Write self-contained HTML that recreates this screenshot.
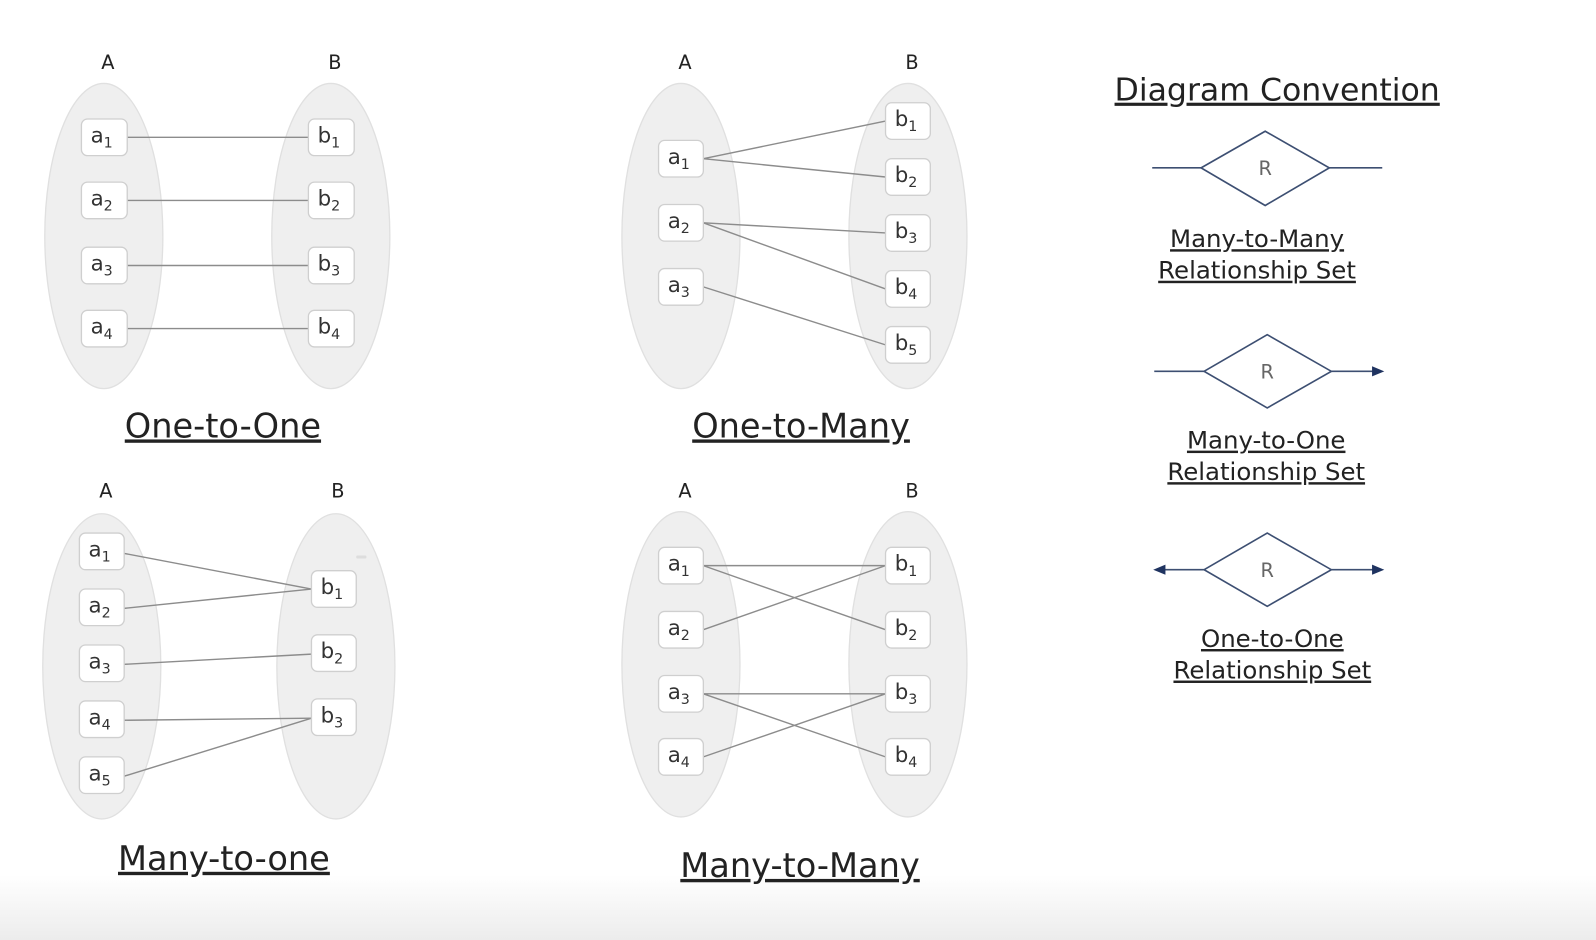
<!DOCTYPE html>
<html><head><meta charset="utf-8"><style>
html,body{margin:0;padding:0;width:1596px;height:940px;overflow:hidden;background:#fff}
svg{display:block}
text{font-family:"DejaVu Sans","Liberation Sans",sans-serif}
.n{fill:#fff;stroke:#cfcfcf;stroke-width:1.3}
.e{fill:#efefef;stroke:#e0e0e0;stroke-width:1.3}
.l{stroke:#8c8c8c;stroke-width:1.4;fill:none}
.t{font-size:21px;fill:#333}
.s{font-size:14px}
.h{font-size:19px;fill:#222}
.ti{font-size:33px;fill:#222;text-decoration:underline}
.cv{font-size:24px;fill:#222;text-decoration:underline}
.dm{fill:#fff;stroke:#3d4f72;stroke-width:1.6}
.dl{stroke:#3d4f72;stroke-width:1.6}
.r{font-size:19px;fill:#666}
</style></head><body>
<svg width="1596" height="940" viewBox="0 0 1568 924" preserveAspectRatio="none">
<defs>
<linearGradient id="g" x1="0" y1="0" x2="0" y2="1"><stop offset="0" stop-color="#fff"/><stop offset="1" stop-color="#ececec"/></linearGradient>
</defs>
<rect x="0" y="860" width="1568" height="64" fill="url(#g)"/>

<!-- One-to-One -->
<text class="h" x="106" y="68" text-anchor="middle">A</text>
<text class="h" x="329" y="68" text-anchor="middle">B</text>
<ellipse class="e" cx="102" cy="232" rx="58" ry="150"/>
<ellipse class="e" cx="325" cy="232" rx="58" ry="150"/>
<line class="l" x1="125" y1="135" x2="303" y2="135"/>
<line class="l" x1="125" y1="197" x2="303" y2="197"/>
<line class="l" x1="125" y1="261" x2="303" y2="261"/>
<line class="l" x1="125" y1="323" x2="303" y2="323"/>
<g>
<rect class="n" x="80" y="117" width="45" height="36" rx="6"/><text class="t" x="89" y="140">a<tspan class="s" dy="5">1</tspan></text>
<rect class="n" x="80" y="179" width="45" height="36" rx="6"/><text class="t" x="89" y="202">a<tspan class="s" dy="5">2</tspan></text>
<rect class="n" x="80" y="243" width="45" height="36" rx="6"/><text class="t" x="89" y="266">a<tspan class="s" dy="5">3</tspan></text>
<rect class="n" x="80" y="305" width="45" height="36" rx="6"/><text class="t" x="89" y="328">a<tspan class="s" dy="5">4</tspan></text>
<rect class="n" x="303" y="117" width="45" height="36" rx="6"/><text class="t" x="312" y="140">b<tspan class="s" dy="5">1</tspan></text>
<rect class="n" x="303" y="179" width="45" height="36" rx="6"/><text class="t" x="312" y="202">b<tspan class="s" dy="5">2</tspan></text>
<rect class="n" x="303" y="243" width="45" height="36" rx="6"/><text class="t" x="312" y="266">b<tspan class="s" dy="5">3</tspan></text>
<rect class="n" x="303" y="305" width="45" height="36" rx="6"/><text class="t" x="312" y="328">b<tspan class="s" dy="5">4</tspan></text>
</g>
<text class="ti" x="219" y="430" text-anchor="middle">One-to-One</text>

<!-- One-to-Many -->
<text class="h" x="673" y="68" text-anchor="middle">A</text>
<text class="h" x="896" y="68" text-anchor="middle">B</text>
<ellipse class="e" cx="669" cy="232" rx="58" ry="150"/>
<ellipse class="e" cx="892" cy="232" rx="58" ry="150"/>
<line class="l" x1="691" y1="156" x2="870" y2="119"/>
<line class="l" x1="691" y1="156" x2="870" y2="174"/>
<line class="l" x1="691" y1="219" x2="870" y2="229"/>
<line class="l" x1="691" y1="219" x2="870" y2="284"/>
<line class="l" x1="691" y1="282" x2="870" y2="339"/>
<rect class="n" x="647" y="138" width="44" height="36" rx="6"/><text class="t" x="656" y="161">a<tspan class="s" dy="5">1</tspan></text>
<rect class="n" x="647" y="201" width="44" height="36" rx="6"/><text class="t" x="656" y="224">a<tspan class="s" dy="5">2</tspan></text>
<rect class="n" x="647" y="264" width="44" height="36" rx="6"/><text class="t" x="656" y="287">a<tspan class="s" dy="5">3</tspan></text>
<rect class="n" x="870" y="101" width="44" height="36" rx="6"/><text class="t" x="879" y="124">b<tspan class="s" dy="5">1</tspan></text>
<rect class="n" x="870" y="156" width="44" height="36" rx="6"/><text class="t" x="879" y="179">b<tspan class="s" dy="5">2</tspan></text>
<rect class="n" x="870" y="211" width="44" height="36" rx="6"/><text class="t" x="879" y="234">b<tspan class="s" dy="5">3</tspan></text>
<rect class="n" x="870" y="266" width="44" height="36" rx="6"/><text class="t" x="879" y="289">b<tspan class="s" dy="5">4</tspan></text>
<rect class="n" x="870" y="321" width="44" height="36" rx="6"/><text class="t" x="879" y="344">b<tspan class="s" dy="5">5</tspan></text>
<text class="ti" x="787" y="430" text-anchor="middle">One-to-Many</text>

<!-- Many-to-one -->
<text class="h" x="104" y="489" text-anchor="middle">A</text>
<text class="h" x="332" y="489" text-anchor="middle">B</text>
<ellipse class="e" cx="100" cy="655" rx="58" ry="150"/>
<ellipse class="e" cx="330" cy="655" rx="58" ry="150"/>
<line class="l" x1="122" y1="544" x2="306" y2="579"/>
<line class="l" x1="122" y1="598" x2="306" y2="579"/>
<line class="l" x1="122" y1="653" x2="306" y2="643"/>
<line class="l" x1="122" y1="708" x2="306" y2="706"/>
<line class="l" x1="122" y1="763" x2="306" y2="706"/>
<rect x="350" y="546" width="10" height="3" rx="1" fill="#ddd"/>
<rect class="n" x="78" y="524" width="44" height="36" rx="6"/><text class="t" x="87" y="547">a<tspan class="s" dy="5">1</tspan></text>
<rect class="n" x="78" y="579" width="44" height="36" rx="6"/><text class="t" x="87" y="602">a<tspan class="s" dy="5">2</tspan></text>
<rect class="n" x="78" y="634" width="44" height="36" rx="6"/><text class="t" x="87" y="657">a<tspan class="s" dy="5">3</tspan></text>
<rect class="n" x="78" y="689" width="44" height="36" rx="6"/><text class="t" x="87" y="712">a<tspan class="s" dy="5">4</tspan></text>
<rect class="n" x="78" y="744" width="44" height="36" rx="6"/><text class="t" x="87" y="767">a<tspan class="s" dy="5">5</tspan></text>
<rect class="n" x="306" y="561" width="44" height="36" rx="6"/><text class="t" x="315" y="584">b<tspan class="s" dy="5">1</tspan></text>
<rect class="n" x="306" y="624" width="44" height="36" rx="6"/><text class="t" x="315" y="647">b<tspan class="s" dy="5">2</tspan></text>
<rect class="n" x="306" y="687" width="44" height="36" rx="6"/><text class="t" x="315" y="710">b<tspan class="s" dy="5">3</tspan></text>
<text class="ti" x="220" y="855" text-anchor="middle">Many-to-one</text>

<!-- Many-to-Many -->
<text class="h" x="673" y="489" text-anchor="middle">A</text>
<text class="h" x="896" y="489" text-anchor="middle">B</text>
<ellipse class="e" cx="669" cy="653" rx="58" ry="150"/>
<ellipse class="e" cx="892" cy="653" rx="58" ry="150"/>
<line class="l" x1="691" y1="556" x2="870" y2="556"/>
<line class="l" x1="691" y1="556" x2="870" y2="619"/>
<line class="l" x1="691" y1="619" x2="870" y2="556"/>
<line class="l" x1="691" y1="682" x2="870" y2="682"/>
<line class="l" x1="691" y1="682" x2="870" y2="744"/>
<line class="l" x1="691" y1="744" x2="870" y2="682"/>
<rect class="n" x="647" y="538" width="44" height="36" rx="6"/><text class="t" x="656" y="561">a<tspan class="s" dy="5">1</tspan></text>
<rect class="n" x="647" y="601" width="44" height="36" rx="6"/><text class="t" x="656" y="624">a<tspan class="s" dy="5">2</tspan></text>
<rect class="n" x="647" y="664" width="44" height="36" rx="6"/><text class="t" x="656" y="687">a<tspan class="s" dy="5">3</tspan></text>
<rect class="n" x="647" y="726" width="44" height="36" rx="6"/><text class="t" x="656" y="749">a<tspan class="s" dy="5">4</tspan></text>
<rect class="n" x="870" y="538" width="44" height="36" rx="6"/><text class="t" x="879" y="561">b<tspan class="s" dy="5">1</tspan></text>
<rect class="n" x="870" y="601" width="44" height="36" rx="6"/><text class="t" x="879" y="624">b<tspan class="s" dy="5">2</tspan></text>
<rect class="n" x="870" y="664" width="44" height="36" rx="6"/><text class="t" x="879" y="687">b<tspan class="s" dy="5">3</tspan></text>
<rect class="n" x="870" y="726" width="44" height="36" rx="6"/><text class="t" x="879" y="749">b<tspan class="s" dy="5">4</tspan></text>
<text class="ti" x="786" y="862" text-anchor="middle">Many-to-Many</text>

<!-- Convention -->
<text x="1095" y="99" style="font-size:31px;fill:#222;text-decoration:underline">Diagram Convention</text>

<line class="dl" x1="1132" y1="165" x2="1180" y2="165"/>
<line class="dl" x1="1306" y1="165" x2="1358" y2="165"/>
<polygon class="dm" points="1180,165 1243,129 1306,165 1243,202"/>
<text class="r" x="1243" y="172" text-anchor="middle">R</text>
<text class="cv" x="1235" y="243" text-anchor="middle">Many-to-Many</text>
<text class="cv" x="1235" y="274" text-anchor="middle">Relationship Set</text>

<line class="dl" x1="1134" y1="365" x2="1183" y2="365"/>
<line class="dl" x1="1308" y1="365" x2="1350" y2="365"/>
<polygon points="1360,365 1348,360 1348,370" fill="#1f3360"/>
<polygon class="dm" points="1183,365 1245,329 1308,365 1245,401"/>
<text class="r" x="1245" y="372" text-anchor="middle">R</text>
<text class="cv" x="1244" y="441" text-anchor="middle">Many-to-One</text>
<text class="cv" x="1244" y="472" text-anchor="middle">Relationship Set</text>

<line class="dl" x1="1142" y1="560" x2="1183" y2="560"/>
<polygon points="1133,560 1145,555 1145,565" fill="#1f3360"/>
<line class="dl" x1="1308" y1="560" x2="1350" y2="560"/>
<polygon points="1360,560 1348,555 1348,565" fill="#1f3360"/>
<polygon class="dm" points="1183,560 1245,524 1308,560 1245,596"/>
<text class="r" x="1245" y="567" text-anchor="middle">R</text>
<text class="cv" x="1250" y="636" text-anchor="middle">One-to-One</text>
<text class="cv" x="1250" y="667" text-anchor="middle">Relationship Set</text>
</svg>
</body></html>
